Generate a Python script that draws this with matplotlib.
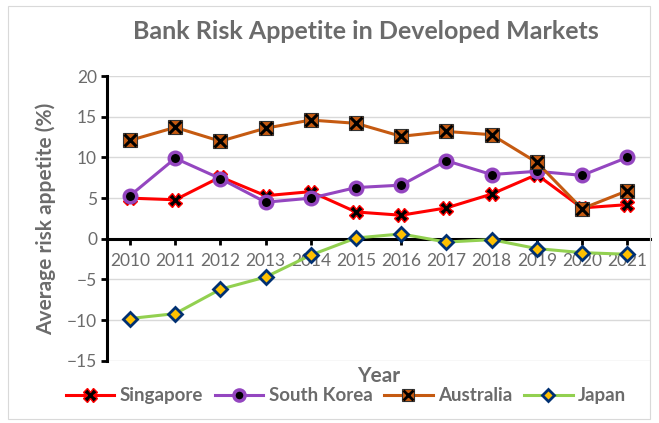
import matplotlib
matplotlib.use("Agg")
import matplotlib.pyplot as plt
from matplotlib.patches import Rectangle
from matplotlib.lines import Line2D

plt.rcParams['font.family'] = ['Lato', 'DejaVu Sans']

years = [2010, 2011, 2012, 2013, 2014, 2015, 2016, 2017, 2018, 2019, 2020, 2021]
singapore = [5.0, 4.8, 7.6, 5.3, 5.8, 3.3, 2.9, 3.8, 5.5, 7.9, 3.8, 4.2]
south_korea = [5.3, 9.9, 7.4, 4.5, 5.0, 6.3, 6.6, 9.6, 7.9, 8.3, 7.8, 10.0]
australia = [12.1, 13.7, 12.0, 13.6, 14.6, 14.2, 12.6, 13.2, 12.8, 9.4, 3.7, 5.9]
japan = [-9.8, -9.2, -6.2, -4.7, -2.0, 0.1, 0.6, -0.4, -0.1, -1.2, -1.7, -1.9]
labels = ['Singapore', 'South Korea', 'Australia', 'Japan']

gray = '#6b6b6b'

fig = plt.figure(figsize=(6.59, 4.23), dpi=100)
fig.patches.append(Rectangle((0.012, 0.01), 0.975, 0.975, transform=fig.transFigure,
                             fill=False, edgecolor='#d9d9d9', linewidth=0.8))
ax = fig.add_axes([0.163, 0.147, 0.823, 0.673])

ax.plot(years, singapore, color='#ff0000', linewidth=2.2, marker='X', markersize=10,
        markerfacecolor='black', markeredgecolor='#ff0000', markeredgewidth=1, zorder=4)
ax.plot(years, south_korea, color='#9446c0', linewidth=2.2, marker='o', markersize=9,
        markerfacecolor='black', markeredgecolor='#9446c0', markeredgewidth=2.5, zorder=4)
ax.plot(years, australia, color='#c55a11', linewidth=2.2, marker='s', markersize=10,
        markerfacecolor='#c55a11', markeredgecolor='#333333', markeredgewidth=0.8, zorder=4)
ax.plot(years, australia, linestyle='none', marker='x', markersize=8, markeredgecolor='black',
        markeredgewidth=2.2, zorder=5)
ax.plot(years, japan, color='#92d050', linewidth=2.2, marker='D', markersize=7,
        markerfacecolor='#ffc000', markeredgecolor='#003072', markeredgewidth=2, zorder=4)

# legend proxies
handles = [
    Line2D([], [], color='#ff0000', linewidth=2.2, marker='X', markersize=10,
           markerfacecolor='black', markeredgecolor='#ff0000'),
    Line2D([], [], color='#9446c0', linewidth=2.2, marker='o', markersize=8,
           markerfacecolor='black', markeredgecolor='#9446c0', markeredgewidth=2.5),
    (Line2D([], [], color='#c55a11', linewidth=2.2, marker='s', markersize=9,
            markerfacecolor='#c55a11', markeredgecolor='#333333', markeredgewidth=0.8),
     Line2D([], [], linestyle='none', marker='x', markersize=7, markeredgecolor='black', markeredgewidth=2)),
    Line2D([], [], color='#92d050', linewidth=2.2, marker='D', markersize=6,
           markerfacecolor='#ffc000', markeredgecolor='#003072', markeredgewidth=2),
]
leg = fig.legend(handles, labels, loc='center', bbox_to_anchor=(0.525, 0.064), ncol=4, frameon=False,
                 fontsize=13.5, handlelength=2.6, columnspacing=0.6, handletextpad=0.3)
for t in leg.get_texts():
    t.set_color(gray)
    t.set_fontweight('bold')

ax.set_xlim(2009.5, 2021.5)
ax.set_ylim(-15, 20)
ax.set_yticks(range(-15, 21, 5))
ax.set_xticks(years)
ax.grid(axis='y', color='#d9d9d9', linewidth=1)
ax.set_axisbelow(True)

ax.spines['top'].set_visible(False)
ax.spines['right'].set_visible(False)
ax.spines['bottom'].set_position(('data', 0))
ax.spines['bottom'].set_linewidth(2.2)
ax.spines['left'].set_linewidth(2.2)
ax.tick_params(axis='x', direction='out', length=4, width=2, labelsize=12.5, labelcolor=gray, pad=6)
ax.tick_params(axis='y', direction='out', length=4, width=2, labelsize=12.5, labelcolor=gray)

ax.set_ylabel('Average risk appetite (%)', fontsize=15, fontweight='bold', color=gray, labelpad=8)
fig.text(0.574, 0.11, 'Year', fontsize=15, fontweight='bold', color=gray, ha='center', va='center')
fig.text(0.555, 0.925, 'Bank Risk Appetite in Developed Markets', fontsize=18, fontweight='bold',
         color=gray, ha='center', va='center')

fig.savefig('out.png', dpi=100)
